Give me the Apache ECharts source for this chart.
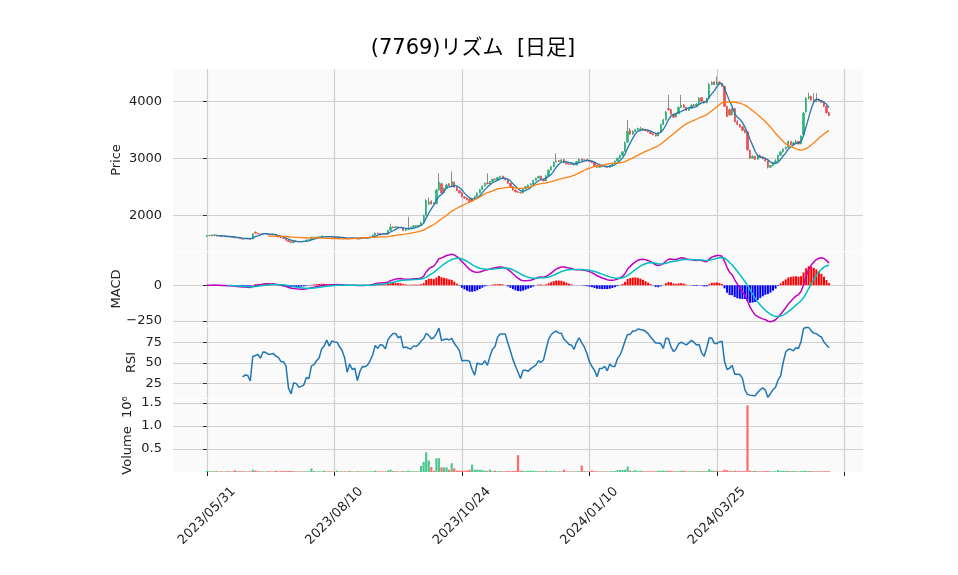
<!DOCTYPE html>
<html>
<head>
<meta charset="utf-8">
<script src="https://cdn.jsdelivr.net/npm/echarts@6/dist/echarts.min.js"></script>
<style>
html, body { margin: 0; padding: 0; background: #fff; }
#chart { width: 958px; height: 575px; }
</style>
</head>
<body>
<div id="chart"></div>
<script>
// x tick labels (every 50 trading days from 2023/05/31)
const tickIdx = [0, 50, 100, 150, 200, 250];
const tickDates = ['2023/05/31', '2023/08/10', '2023/10/24', '2024/01/10', '2024/03/25', ''];

const openP = [
  1640,1650,1660,1650,1660,1640,1650,1632,1645,1624,
  1632,1622,1610,1618,1598,1590,1602,1594,1592,1712,
  1692,1680,1674,1686,1688,1668,1662,1670,1640,1624,
  1610,1598,1570,1545,1528,1560,1548,1542,1550,1550,
  1576,1582,1622,1614,1625,1628,1626,1632,1630,1626,
  1628,1618,1626,1610,1618,1600,1596,1612,1604,1612,
  1590,1605,1618,1612,1620,1630,1660,1695,1688,1682,
  1676,1675,1742,1800,1790,1805,1790,1795,1742,1760,
  1776,1800,1825,1815,1832,1882,2005,2200,2250,2220,
  2210,2450,2560,2400,2480,2560,2520,2590,2500,2440,
  2400,2330,2310,2290,2250,2300,2340,2400,2460,2520,
  2575,2560,2600,2645,2630,2670,2695,2660,2630,2570,
  2510,2450,2420,2405,2400,2470,2510,2540,2560,2620,
  2660,2695,2640,2610,2700,2800,2860,2940,2965,2950,
  2985,2930,2910,2900,2920,2890,2950,2995,2970,2985,
  2960,2955,2930,2880,2850,2880,2860,2870,2850,2880,
  2920,2960,3010,3060,3130,3290,3500,3430,3480,3510,
  3515,3525,3500,3495,3470,3440,3420,3400,3460,3600,
  3680,3880,3860,3780,3730,3790,3900,3945,3900,3850,
  3880,3945,3930,3960,4070,4010,3980,4060,4300,4345,
  4300,4345,4320,4270,3920,3860,3770,3880,3650,3600,
  3560,3500,3470,3150,3010,3040,2990,3060,3030,3000,
  2960,2850,2880,2930,2960,3060,3120,3170,3200,3300,
  3250,3280,3305,3260,3420,3820,4060,4090,4030,4000,
  4040,4010,3990,3920,3810
];
const closeP = [
  1650,1655,1648,1665,1642,1650,1630,1645,1625,1632,
  1620,1612,1618,1598,1590,1602,1592,1590,1680,1695,
  1680,1672,1685,1690,1670,1662,1672,1640,1625,1612,
  1600,1570,1545,1525,1560,1548,1542,1550,1548,1575,
  1580,1622,1615,1625,1628,1645,1632,1630,1625,1628,
  1620,1626,1612,1618,1600,1596,1612,1606,1612,1590,
  1605,1618,1612,1620,1628,1660,1695,1688,1682,1676,
  1672,1740,1800,1790,1805,1790,1795,1740,1760,1775,
  1800,1825,1815,1830,1880,2000,2270,2240,2210,2205,
  2450,2590,2400,2480,2540,2530,2600,2500,2440,2400,
  2330,2310,2280,2250,2300,2340,2400,2460,2520,2570,
  2560,2600,2640,2630,2670,2690,2660,2630,2570,2510,
  2450,2420,2410,2400,2470,2510,2540,2560,2620,2660,
  2690,2640,2610,2700,2800,2860,2940,2960,2950,2980,
  2930,2910,2900,2920,2890,2950,2990,2970,2980,2960,
  2950,2930,2880,2850,2880,2860,2870,2850,2880,2920,
  2960,3010,3060,3120,3280,3480,3430,3480,3510,3530,
  3525,3500,3490,3470,3440,3420,3400,3460,3600,3680,
  3820,3860,3780,3730,3790,3900,3940,3900,3850,3880,
  3940,3930,3960,4060,4010,3980,4050,4300,4340,4300,
  4340,4320,4280,3920,3740,3770,3880,3650,3600,3560,
  3500,3460,3160,3010,3040,2990,3060,3030,3000,2960,
  2850,2880,2930,2960,3060,3120,3170,3200,3300,3250,
  3280,3300,3260,3400,3800,4060,4090,4030,4000,4040,
  4010,3990,3920,3810,3760
];
const lowP = [
  1635,1642,1640,1645,1638,1636,1625,1628,1620,1620,
  1615,1605,1606,1592,1584,1585,1586,1582,1588,1688,
  1672,1665,1670,1680,1665,1655,1658,1636,1620,1606,
  1594,1565,1540,1518,1524,1542,1535,1536,1542,1548,
  1570,1580,1608,1610,1620,1625,1622,1624,1618,1620,
  1615,1612,1606,1606,1594,1590,1594,1600,1600,1585,
  1586,1598,1606,1608,1615,1628,1658,1680,1676,1670,
  1666,1672,1738,1780,1785,1782,1785,1735,1738,1755,
  1770,1795,1808,1810,1828,1878,2000,2190,2200,2195,
  2205,2440,2390,2395,2470,2520,2515,2490,2430,2390,
  2320,2300,2270,2240,2240,2295,2335,2395,2455,2515,
  2550,2555,2595,2620,2625,2660,2650,2620,2560,2500,
  2440,2410,2400,2390,2395,2465,2505,2535,2555,2615,
  2655,2630,2600,2605,2695,2795,2855,2935,2940,2945,
  2920,2900,2890,2895,2880,2885,2945,2960,2965,2950,
  2940,2920,2870,2835,2845,2850,2850,2835,2845,2875,
  2915,2955,3005,3055,3125,3285,3420,3425,3470,3500,
  3505,3490,3480,3460,3430,3410,3390,3395,3455,3590,
  3670,3840,3770,3715,3725,3785,3890,3890,3840,3845,
  3875,3915,3925,3955,4000,3970,3975,4055,4290,4290,
  4295,4305,4260,3910,3730,3750,3760,3640,3590,3545,
  3480,3445,3140,3000,3000,2975,2985,3020,2990,2950,
  2830,2840,2875,2920,2955,3050,3110,3160,3195,3240,
  3240,3270,3250,3255,3415,3810,4040,4020,3990,3990,
  4000,3975,3905,3795,3745
];
const highP = [
  1660,1662,1665,1675,1668,1656,1655,1650,1648,1638,
  1636,1626,1622,1622,1602,1606,1605,1598,1690,1722,
  1698,1686,1690,1696,1692,1674,1678,1674,1646,1630,
  1616,1604,1575,1550,1566,1565,1552,1556,1556,1582,
  1586,1630,1628,1632,1635,1652,1640,1638,1634,1634,
  1632,1630,1628,1622,1620,1604,1616,1616,1616,1614,
  1610,1624,1622,1626,1634,1668,1705,1700,1694,1688,
  1682,1750,1860,1815,1815,1810,1802,1798,1768,1980,
  1808,1832,1830,1838,1890,2020,2290,2320,2270,2235,
  2470,2745,2580,2490,2560,2570,2775,2600,2510,2450,
  2410,2340,2320,2300,2310,2350,2410,2470,2530,2580,
  2745,2610,2650,2655,2680,2700,2700,2665,2635,2575,
  2515,2455,2430,2412,2480,2520,2550,2570,2630,2670,
  2700,2700,2645,2710,2810,2870,2950,3096,2975,2990,
  2990,2935,2915,2930,2925,2960,3000,3000,2990,2990,
  2965,2960,2935,2885,2890,2885,2880,2875,2890,2930,
  2970,3020,3070,3135,3300,3680,3540,3495,3525,3545,
  3560,3535,3510,3500,3475,3450,3430,3470,3610,3700,
  3840,4120,3870,3790,3800,3915,4120,3955,3910,3895,
  3955,3960,3975,4080,4080,4020,4070,4330,4360,4360,
  4440,4360,4330,4275,3930,3880,3890,3885,3680,3610,
  3570,3520,3480,3160,3060,3050,3070,3075,3040,3010,
  2965,2890,2940,2990,3070,3130,3180,3215,3320,3310,
  3290,3330,3310,3410,3820,4080,4160,4110,4150,4150,
  4060,4030,4000,3930,3825
];
// volume in thousands of shares
const volK = [
  22,18,15,20,17,14,16,13,18,15,
  14,35,20,16,18,15,14,16,48,30,
  20,16,15,14,17,15,14,28,18,16,
  22,20,22,24,19,15,14,13,15,18,
  16,75,20,16,14,15,30,14,15,13,
  14,30,16,14,15,13,22,14,13,18,
  15,14,13,14,15,18,28,16,14,13,
  15,30,50,20,17,15,14,22,16,30,
  16,18,15,17,130,220,430,250,110,25,
  300,300,100,100,100,50,190,80,30,30,
  25,30,30,50,160,50,50,50,40,30,
  25,50,20,30,18,20,17,16,20,18,
  20,22,365,30,25,20,28,28,28,20,
  18,18,16,28,20,18,20,18,16,15,
  50,16,14,15,14,16,18,140,20,16,
  15,30,18,16,15,14,15,14,16,18,
  20,40,40,45,50,120,30,20,40,20,
  30,18,16,15,16,15,18,30,25,30,
  25,30,20,18,16,20,25,28,18,16,
  18,16,17,20,18,16,20,60,30,25,
  28,22,20,50,35,25,22,30,20,18,
  20,18,1450,30,20,25,18,16,15,22,
  20,16,15,16,40,25,25,22,25,18,
  22,18,16,20,25,22,20,18,16,18,
  16,15,16,18,16
];

const UP = '#2db676', DOWN = '#f54b4b';
const VUP = '#4dc790', VDOWN = '#fd6b6c';
const FONT = "'DejaVu Sans', 'Noto Sans CJK JP', sans-serif";

// indicators
function sma(src, n) {
  return src.map((v, i) => i < n - 1 ? null : src.slice(i - n + 1, i + 1).reduce((a, b) => a + b, 0) / n);
}
function ema(src, n) {
  const k = 2 / (n + 1), out = [];
  src.forEach((v, i) => out.push(i === 0 ? v : out[i - 1] + k * (v - out[i - 1])));
  return out;
}
const ma5 = sma(closeP, 5);
const ma25 = sma(closeP, 25);
const ema12 = ema(closeP, 12), ema26 = ema(closeP, 26);
const macd = ema12.map((v, i) => v - ema26[i]);
const signal = ema(macd, 9);
const hist = macd.map((v, i) => v - signal[i]);

// RSI 14, simple rolling means of gains / losses
const rsi = closeP.map((c, i) => {
  if (i < 14) return null;
  let g = 0, l = 0;
  for (let j = i - 13; j <= i; j++) {
    const d = closeP[j] - closeP[j - 1];
    if (d > 0) g += d; else l -= d;
  }
  return l === 0 ? 100 : 100 - 100 / (1 + g / l);
});

const pts = (arr, from) => arr.map((v, i) => [i, v]).filter(p => p[0] >= from && p[1] != null);
const isUp = i => closeP[i] >= openP[i];

const candleWick = closeP.map((c, i) => [i, openP[i], c, lowP[i], highP[i]]);
const candleBody = closeP.map((c, i) => [i, openP[i], c, Math.min(openP[i], c), Math.max(openP[i], c)]);

const panels = [
  { top: 69, height: 182 },
  { top: 252, height: 74 },
  { top: 327, height: 71 },
  { top: 399, height: 73 }
];

const labelStyle = { fontFamily: FONT, fontSize: 13, color: '#222' };
const gridLine = { show: true, lineStyle: { color: '#d0d0d0', width: 1.2 } };

function xAxisFor(k) {
  const bottom = k === 3;
  return {
    type: 'value', gridIndex: k, min: -13.3, max: 257.3,
    axisLine: { show: false, onZero: false },
    axisTick: { show: bottom, customValues: tickIdx, length: 4, lineStyle: { color: '#222' } },
    axisLabel: {
      show: bottom, customValues: tickIdx, rotate: 45, align: 'center', verticalAlign: 'middle',
      margin: 44, ...labelStyle,
      formatter: v => tickDates[tickIdx.indexOf(Math.round(v))] || ''
    },
    splitLine: gridLine
  };
}

function yAxisFor(k, min, max, vals, name, gap, fmt) {
  return {
    type: 'value', gridIndex: k, min: min, max: max,
    name: name, nameLocation: 'middle', nameGap: gap, nameMoveOverlap: false,
    nameTextStyle: { fontFamily: FONT, fontSize: 13, color: '#222' },
    axisLine: { show: false },
    axisTick: { show: true, customValues: vals, length: 4, lineStyle: { color: '#333' } },
    axisLabel: { customValues: vals, margin: 11, ...labelStyle, formatter: fmt },
    splitLine: gridLine
  };
}

const chart = echarts.init(document.getElementById('chart'));
chart.setOption({
  animation: false,
  backgroundColor: '#ffffff',
  title: {
    text: '(7769)リズム  [日足]',
    left: 468, top: 33, textAlign: 'center',
    textStyle: { fontFamily: FONT, fontSize: 21, fontWeight: 'normal', color: '#000' }
  },
  grid: panels.map(p => ({
    left: 173, right: 95, top: p.top, height: p.height,
    show: true, backgroundColor: '#fafafa', borderWidth: 0
  })),
  xAxis: [0, 1, 2, 3].map(xAxisFor),
  yAxis: [
    yAxisFor(0, 1381, 4574, [2000, 3000, 4000], 'Price', 50, v => String(v)),
    yAxisFor(1, -285, 233, [-250, 0], 'MACD', 50, v => v < 0 ? '\u2212' + Math.abs(v) : String(v)),
    yAxisFor(2, 7.4, 93.8, [25, 50, 75], 'RSI', 35, v => String(v)),
    yAxisFor(3, 0, 1587000, [500000, 1000000, 1500000], 'Volume  10\u2076', 39, v => (v / 1e6).toFixed(1))
  ],
  series: [
    {
      type: 'candlestick', xAxisIndex: 0, yAxisIndex: 0, data: candleWick,
      encode: { x: 0, y: [1, 2, 3, 4] }, barWidth: 0.6,
      itemStyle: { color: '#8a8a8a', color0: '#8a8a8a', borderColor: '#8a8a8a', borderColor0: '#8a8a8a', borderWidth: 1 }
    },
    {
      type: 'candlestick', xAxisIndex: 0, yAxisIndex: 0, data: candleBody,
      encode: { x: 0, y: [1, 2, 3, 4] }, barWidth: 1.8,
      itemStyle: { color: UP, color0: DOWN, borderColor: UP, borderColor0: DOWN, borderWidth: 0.7 }
    },
    {
      type: 'line', xAxisIndex: 0, yAxisIndex: 0, data: pts(ma5, 4), showSymbol: false,
      lineStyle: { color: '#1f77b4', width: 1.3 }, itemStyle: { color: '#1f77b4' }
    },
    {
      type: 'line', xAxisIndex: 0, yAxisIndex: 0, data: pts(ma25, 24), showSymbol: false,
      lineStyle: { color: '#ff7f0e', width: 1.3 }, itemStyle: { color: '#ff7f0e' }
    },
    {
      type: 'bar', xAxisIndex: 1, yAxisIndex: 1, data: pts(hist, 8), barWidth: 2,
      itemStyle: { color: p => p.value[1] >= 0 ? '#ff0000' : '#0000ff' }
    },
    {
      type: 'line', xAxisIndex: 1, yAxisIndex: 1, data: pts(macd, 0), showSymbol: false,
      lineStyle: { color: '#bf00bf', width: 1.5 }, itemStyle: { color: '#bf00bf' }
    },
    {
      type: 'line', xAxisIndex: 1, yAxisIndex: 1, data: pts(signal, 8), showSymbol: false,
      lineStyle: { color: '#00bfbf', width: 1.5 }, itemStyle: { color: '#00bfbf' }
    },
    {
      type: 'line', xAxisIndex: 2, yAxisIndex: 2, data: pts(rsi, 14), showSymbol: false,
      lineStyle: { color: '#1f77b4', width: 1.5 }, itemStyle: { color: '#1f77b4' }
    },
    {
      type: 'bar', xAxisIndex: 3, yAxisIndex: 3, barWidth: 2.2,
      data: volK.map((v, i) => [i, v * 1000]),
      itemStyle: { color: p => isUp(p.dataIndex) ? VUP : VDOWN }
    }
  ]
});
</script>
</body>
</html>
